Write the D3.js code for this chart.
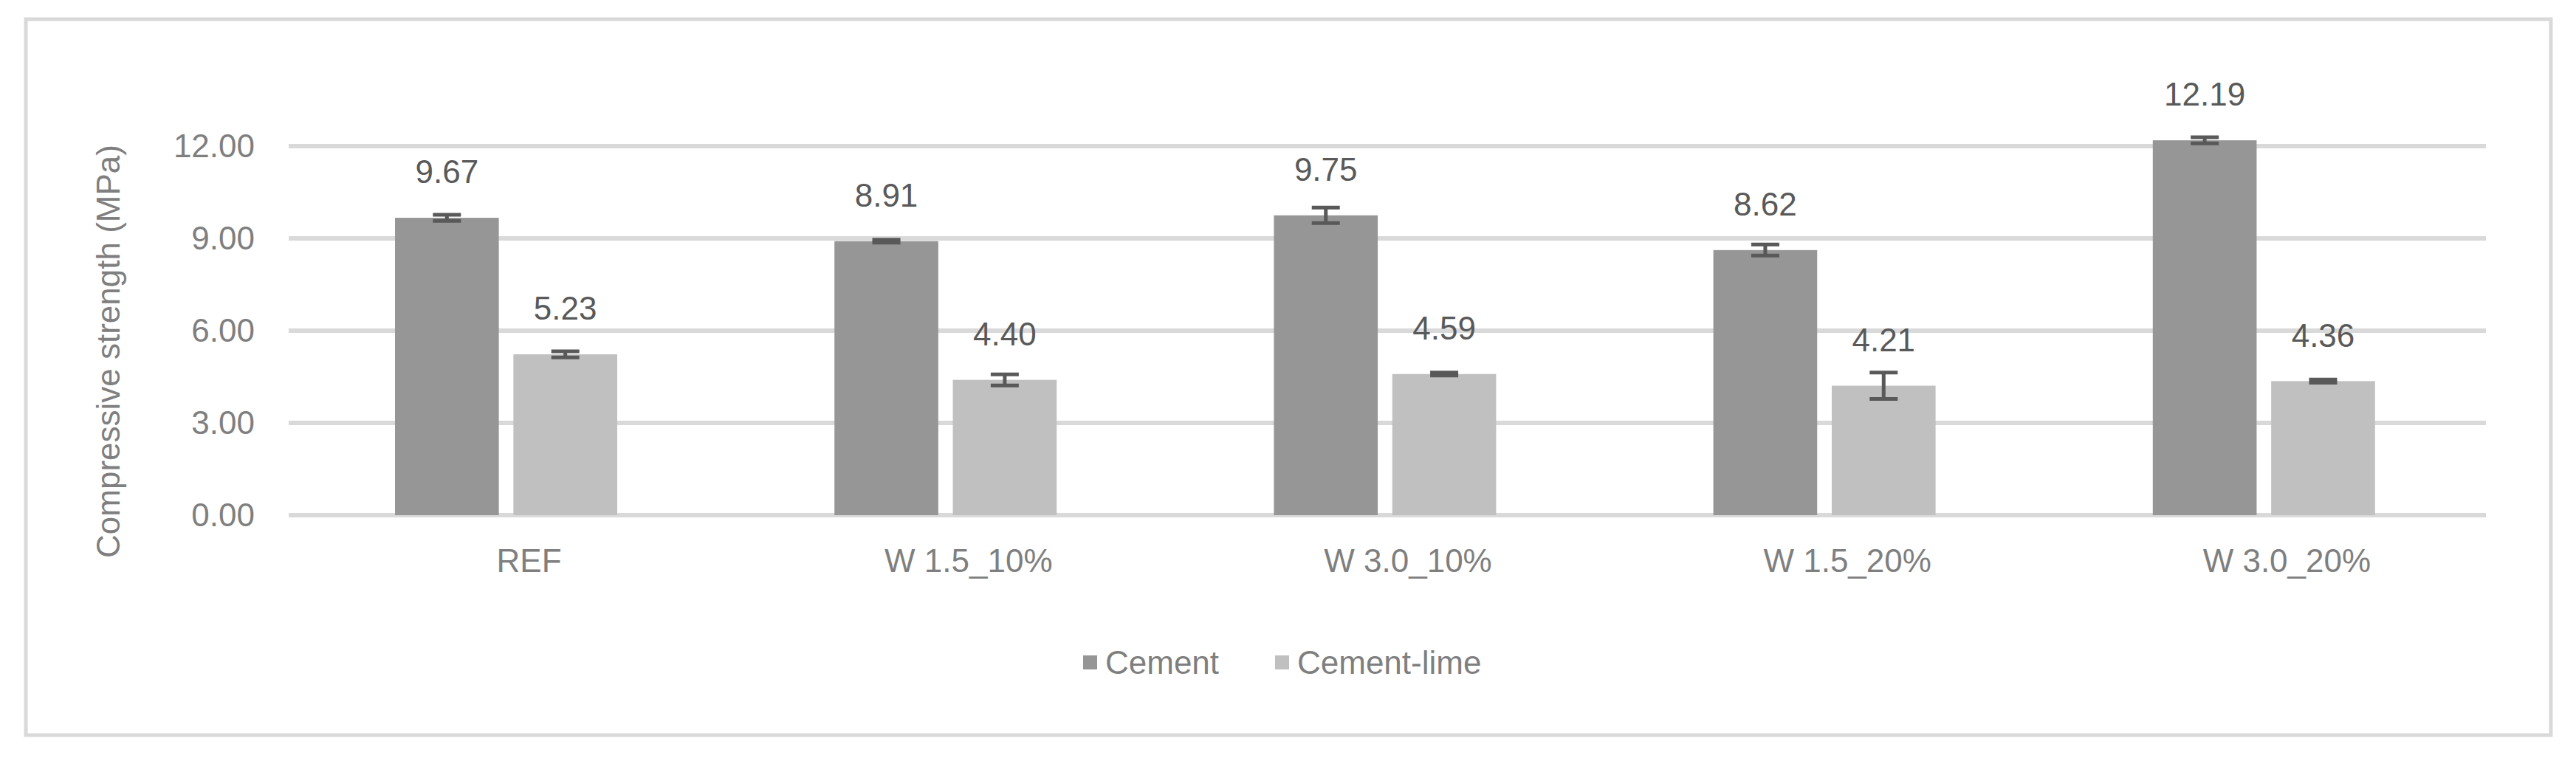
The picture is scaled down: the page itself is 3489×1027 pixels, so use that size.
<!DOCTYPE html>
<html><head><meta charset="utf-8">
<script src="https://cdn.jsdelivr.net/npm/d3@7"></script>
<style>body{margin:0;background:#fff;}svg{display:block;font-family:"Liberation Sans",Arial,sans-serif;}</style>
</head><body><svg id="c" width="3489" height="1027"></svg>
<script>
const categories = ["REF","W 1.5_10%","W 3.0_10%","W 1.5_20%","W 3.0_20%"];
const seriesNames = ["Cement","Cement-lime"];
const cement = [9.67,8.91,9.75,8.62,12.19];
const cementLime = [5.23,4.40,4.59,4.21,4.36];
const cementErr = [0.10,0.05,0.25,0.18,0.10];
const limeErr = [0.10,0.18,0.05,0.43,0.05];
const yTicks = [0,3,6,9,12];
const colors = ["#969696","#c0c0c0"];

const svg = d3.select("#c");
svg.append("rect").attr("x",35).attr("y",26).attr("width",3420).attr("height",970)
  .attr("fill","#fff").attr("stroke","#d9d9d9").attr("stroke-width",5);

const L=391,R=3367,T=198,B=698;
const x = d3.scaleBand().domain(categories).range([L,R]);
const inner = d3.scaleBand().domain(seriesNames).range([144,144+301]).paddingInner(0.123);
const y = d3.scaleLinear().domain([0,12]).range([B,T]);

svg.append("g").selectAll("line").data(yTicks).join("line")
  .attr("x1",L).attr("x2",R).attr("y1",d=>y(d)).attr("y2",d=>y(d))
  .attr("stroke","#d9d9d9").attr("stroke-width",6);
svg.append("g").selectAll("text").data(yTicks).join("text")
  .attr("x",345).attr("y",d=>y(d)).attr("dy","0.35em").attr("text-anchor","end")
  .attr("font-size",44).attr("fill","#7f7f7f").text(d=>d.toFixed(2));

svg.append("text").attr("transform",`translate(162,${(T+B)/2+28}) rotate(-90)`)
  .attr("text-anchor","middle").attr("font-size",44).attr("fill","#7f7f7f")
  .text("Compressive strength (MPa)");

svg.append("g").selectAll("text").data(categories).join("text")
  .attr("x",d=>x(d)+x.bandwidth()/2+28).attr("y",760).attr("dy","0.35em")
  .attr("text-anchor","middle").attr("font-size",44).attr("fill","#7f7f7f").text(d=>d);

const series=[cement,cementLime], errs=[cementErr,limeErr];
series.forEach((vals,si)=>{
  const g=svg.append("g");
  const name=seriesNames[si];
  const cx=(i)=>x(categories[i])+inner(name)+inner.bandwidth()/2;
  g.selectAll("rect").data(vals).join("rect")
    .attr("x",(d,i)=>x(categories[i])+inner(name)).attr("width",inner.bandwidth())
    .attr("y",d=>y(d)).attr("height",d=>B-y(d)).attr("fill",colors[si]);
  vals.forEach((v,i)=>{
    const e=errs[si][i], c=cx(i);
    const eg=g.append("g").attr("stroke","#595959").attr("stroke-width",5);
    eg.append("line").attr("x1",c).attr("x2",c).attr("y1",y(v+e)).attr("y2",y(v-e));
    [v+e,v-e].forEach(t=>eg.append("line").attr("x1",c-19).attr("x2",c+19).attr("y1",y(t)).attr("y2",y(t)));
    g.append("text").attr("x",c).attr("y",y(v)-62).attr("dy","0.35em").attr("text-anchor","middle")
      .attr("font-size",44).attr("fill","#595959").text(v.toFixed(2));
  });
});

const leg=svg.append("g");
const lx=[1467,1727];
seriesNames.forEach((n,i)=>{
  leg.append("rect").attr("x",lx[i]).attr("y",888).attr("width",19).attr("height",19).attr("fill",colors[i]);
  leg.append("text").attr("x",lx[i]+30).attr("y",898).attr("dy","0.35em").attr("font-size",44)
    .attr("fill","#7f7f7f").text(n);
});
</script></body></html>
